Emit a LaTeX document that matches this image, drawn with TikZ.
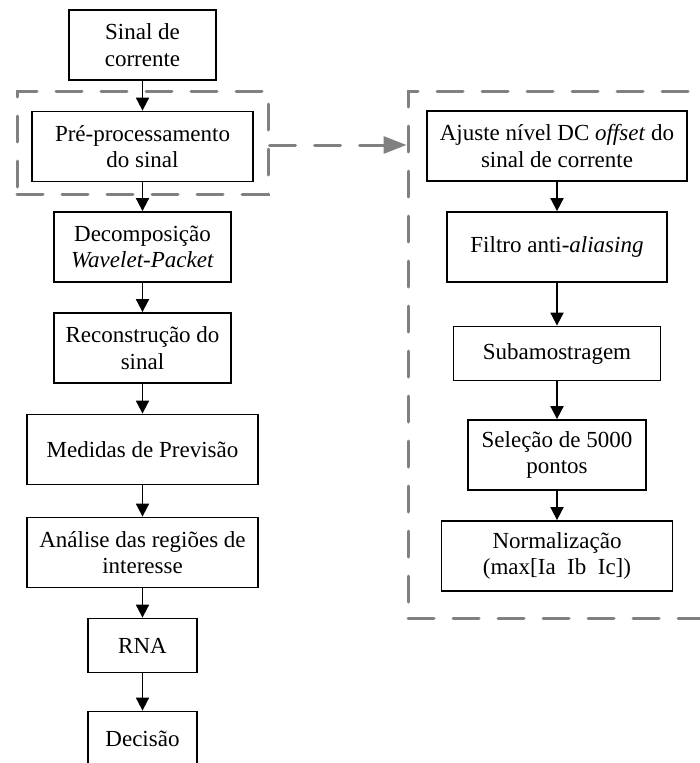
\documentclass[tikz,border=0pt]{standalone}
\usepackage{fontspec}
\setmainfont{Liberation Serif}
\usetikzlibrary{arrows.meta}
\tikzset{
	bloco/.style = {align=center, inner sep=0pt, text centered,
		font=\fontsize{23}{26.5}\selectfont},
	cx_n/.style = {bloco, rectangle, draw=black, line width=1.8pt,
		minimum height=70pt},% caixa normal
	cx_b/.style = {bloco, rectangle, draw=black, line width=1.8pt,
		minimum height=54pt},% caixa baixa
	grupo/.style = {rectangle, draw=gray, line width=3pt, line cap=round,
		dash pattern=on 26pt off 19pt},% grupo tracejado
	seta_g/.style = {draw=gray, line width=3pt, line cap=round,
		dash pattern=on 26pt off 19pt,
		-{Triangle[length=23pt,width=17pt,fill=gray]}}% seta tracejada
}
\begin{document}
\begin{tikzpicture}[x=1pt,y=1pt,->,>={Triangle[length=13pt,width=13pt]},
	line width=1.8pt]
	\useasboundingbox (0,0) rectangle (699,-763);
	% grupos
	\node [grupo, minimum width=251pt, minimum height=103pt] (grp_a) at (142.5,-142.5) {};
	\node [grupo, minimum width=304pt, minimum height=527pt] (grp_b) at (560,-354.5) {};
	% coluna principal
	\node [cx_n, minimum width=147pt] (sinal) at (142.5,-45) {Sinal de\\corrente};
	\node [cx_n, minimum width=221pt] (preproc) at (142.5,-146.5) {Pré-processamento\\do sinal};
	\node [cx_n, minimum width=177pt] (decomp) at (142.5,-247) {Decomposição\\\textit{Wavelet-Packet}};
	\node [cx_n, minimum width=177pt] (reconst) at (142.5,-348) {Reconstrução do\\sinal};
	\node [cx_n, minimum width=231pt] (medidas) at (142.5,-449.5) {Medidas de Previsão};
	\node [cx_n, minimum width=231pt] (analise) at (142.5,-552.5) {Análise das regiões de\\interesse};
	\node [cx_b, minimum width=109pt] (rna) at (142.5,-645.5) {RNA};
	\node [cx_b, minimum width=109pt] (decisao) at (142.5,-738.5) {Decisão};
	% pre-processamento
	\node [cx_n, minimum width=260pt] (ajuste) at (557,-146) {Ajuste nível DC \textit{offset} do\\sinal de corrente};
	\node [cx_n, minimum width=220pt] (filtro) at (557,-247) {Filtro anti-\textit{aliasing}};
	\node [cx_b, minimum width=207pt] (subamost) at (557,-353.5) {Subamostragem};
	\node [cx_n, minimum width=178pt] (selecao) at (557,-455) {Seleção de 5000\\pontos};
	\node [cx_n, minimum width=231pt] (normaliz) at (557,-556) {Normalização\\(max[Ia\ \ Ib\ \ Ic])};
	% ligacoes
	\draw (sinal) -- (preproc);
	\draw (preproc) -- (decomp);
	\draw (decomp) -- (reconst);
	\draw (reconst) -- (medidas);
	\draw (medidas) -- (analise);
	\draw (analise) -- (rna);
	\draw (rna) -- (decisao);
	\draw (ajuste) -- (filtro);
	\draw (filtro) -- (subamost);
	\draw (subamost) -- (selecao);
	\draw (selecao) -- (normaliz);
	\draw [seta_g] ([yshift=-2.5pt]grp_a.east) -- ([yshift=-2.5pt]grp_a.east -| grp_b.west);
\end{tikzpicture}
\end{document}
